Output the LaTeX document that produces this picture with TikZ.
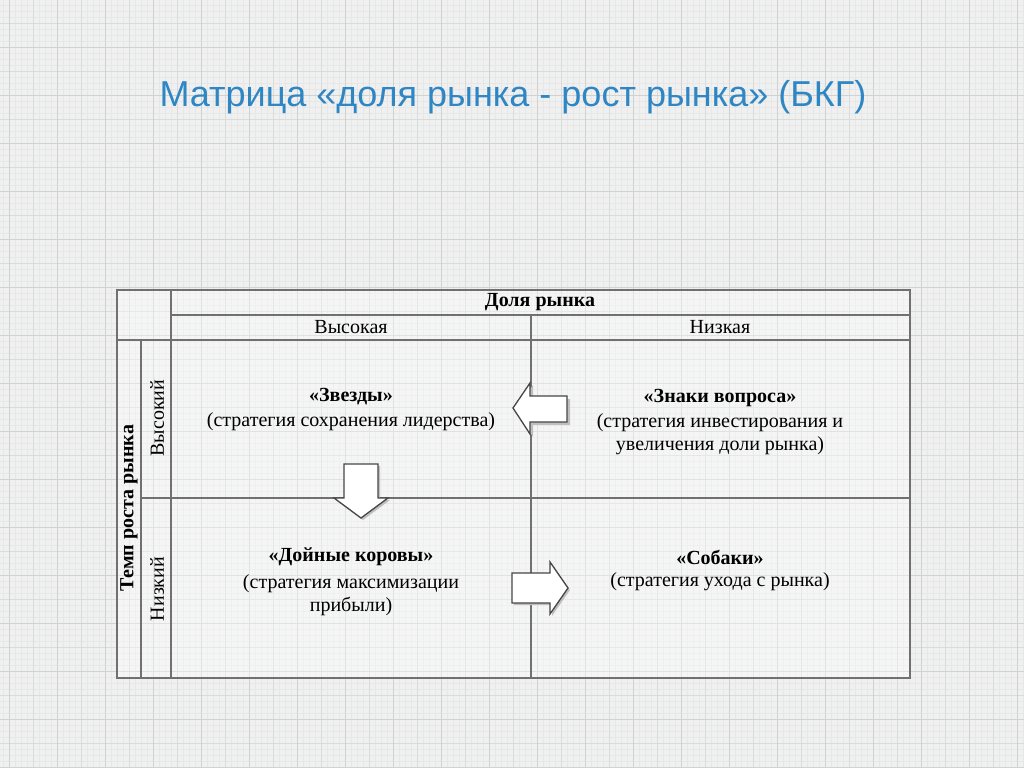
\documentclass[tikz,border=0pt]{standalone}
\usepackage{fontspec}
\setmainfont{Liberation Serif}
\newfontfamily\titlefont{Liberation Sans}
\definecolor{bgc}{RGB}{240,240,240}
\definecolor{gminor}{RGB}{230,232,232}
\definecolor{gmajor}{RGB}{218,220,220}
\definecolor{gmajor2}{RGB}{208,210,210}
\definecolor{tline}{RGB}{112,112,112}
\definecolor{titleblue}{RGB}{46,134,196}
\definecolor{arrowline}{RGB}{70,70,70}
\tikzset{
  tbl/.style={draw=tline, line width=1.6pt},
  cell/.style={font=\fontsize{20}{22.5}\selectfont, align=center, inner sep=0pt},
  cellb/.style={font=\fontsize{20}{22}\selectfont\bfseries, align=center, inner sep=0pt},
  blockarrow/.style={fill=white, draw=arrowline, line width=1.3pt, line join=miter},
  shadowarrow/.style={fill=black!25, draw=none}
}
\begin{document}
\begin{tikzpicture}[x=1pt,y=-1pt]
\useasboundingbox (0,0) rectangle (1024,768);
\fill[bgc] (0,0) rectangle (1024,768);
% grid
\foreach \i in {0,...,171} {
  \draw[gminor, line width=0.5pt] ({\i*6-3},0) -- ({\i*6-3},768);
}
\foreach \i in {0,...,128} {
  \draw[gminor, line width=0.5pt] (0,{\i*6-1}) -- (1024,{\i*6-1});
}
\foreach \i in {0,...,43} {
  \draw[gmajor, line width=0.8pt] ({\i*24+9},0) -- ({\i*24+9},768);
}
\foreach \i in {0,...,32} {
  \draw[gmajor, line width=0.8pt] (0,{\i*24-1}) -- (1024,{\i*24-1});
}
\foreach \i in {0,...,21} {
  \draw[gmajor2, line width=0.9pt] ({\i*48+9},0) -- ({\i*48+9},768);
}
\foreach \i in {0,...,16} {
  \draw[gmajor2, line width=0.9pt] (0,{\i*48-1}) -- (1024,{\i*48-1});
}
% title
\node[font=\titlefont\fontsize{36}{42}\selectfont, text=titleblue, inner sep=0pt] (title) at (513,97) {Матрица «доля рынка - рост рынка» (БКГ)};
% table background
\fill[white, opacity=0.35] (117,290) rectangle (910,678);
% table lines
\draw[tbl] (117,290) rectangle (910,678);
\draw[tbl] (171,290) -- (171,678);
\draw[tbl] (141,340) -- (141,678);
\draw[tbl] (531,315) -- (531,678);
\draw[tbl] (171,315) -- (910,315);
\draw[tbl] (117,340) -- (910,340);
\draw[tbl] (141,498) -- (910,498);
% headers
\node[cellb] (share) at (540,302) {Доля рынка};
\node[cell] (high) at (351,327) {Высокая};
\node[cell] (low) at (720,327) {Низкая};
\node[cellb, rotate=90] (growth) at (129,508) {Темп роста рынка};
\node[cell, rotate=90] (ghigh) at (157,418) {Высокий};
\node[cell, rotate=90] (glow) at (157,589) {Низкий};
% cells
\node[cellb] (stars) at (351,397) {«Звезды»};
\node[cell] (starsd) at (351,422) {(стратегия сохранения лидерства)};
\node[cellb] (qm) at (720,398) {«Знаки вопроса»};
\node[cell] (qmd) at (720,434) {(стратегия инвестирования и\\увеличения доли рынка)};
\node[cellb] (cows) at (351,557) {«Дойные коровы»};
\node[cell] (cowsd) at (351,595) {(стратегия максимизации\\прибыли)};
\node[cellb] (dogs) at (720,557) {«Собаки»};
\node[cell] (dogsd) at (720,582) {(стратегия ухода с рынка)};
% block arrows
% left arrow (question marks -> stars)
\fill[shadowarrow] (516,410) -- (533,385) -- (533,399) -- (570,399) -- (570,425) -- (533,425) -- (533,437) -- cycle;
\draw[blockarrow] (513,408) -- (530,383) -- (530,396) -- (567,396) -- (567,422) -- (530,422) -- (530,434) -- cycle;
% down arrow (stars -> cows)
\fill[shadowarrow] (346,466) -- (380,466) -- (380,500) -- (390,500) -- (363,520) -- (336,500) -- (346,500) -- cycle;
\draw[blockarrow] (344,464) -- (378,464) -- (378,498) -- (388,498) -- (361,518) -- (334,498) -- (344,498) -- cycle;
% right arrow (cows -> dogs)
\fill[shadowarrow] (514,575) -- (552,575) -- (552,564) -- (570,590) -- (552,616) -- (552,605) -- (514,605) -- cycle;
\draw[blockarrow] (512,573) -- (550,573) -- (550,562) -- (568,588) -- (550,614) -- (550,603) -- (512,603) -- cycle;
\end{tikzpicture}
\end{document}
